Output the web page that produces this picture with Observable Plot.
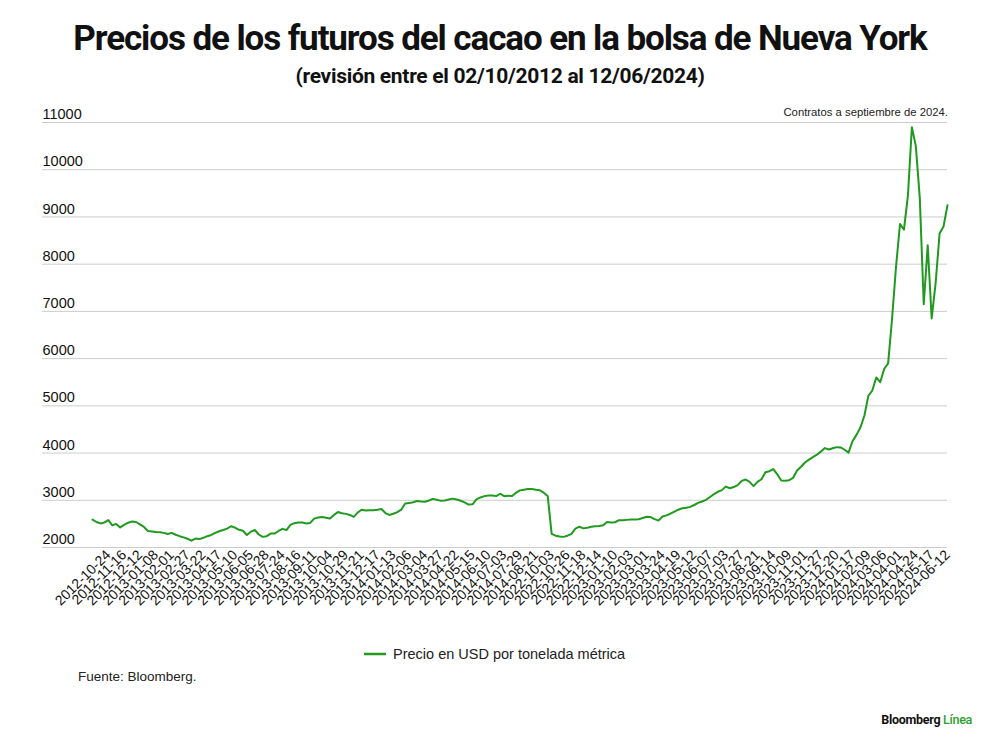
<!DOCTYPE html>
<html>
<head>
<meta charset="utf-8">
<script src="https://cdn.jsdelivr.net/npm/d3@7"></script>
<script src="https://cdn.jsdelivr.net/npm/@observablehq/plot@0.6"></script>
<style>
  body { margin: 0; background: #fff; }
  #wrap { position: relative; width: 1000px; height: 750px; font-family: "Liberation Sans", Arial, sans-serif; color: #111; overflow: hidden; }
  #title { position: absolute; top: 21px; left: 0; width: 1000px; text-align: center; font: bold 35px Roboto, sans-serif; letter-spacing: -1.1px; line-height: 1; color: #111; }
  #subtitle { position: absolute; top: 66px; left: 0; width: 1000px; text-align: center; font: bold 21px Roboto, sans-serif; letter-spacing: -0.3px; line-height: 1; color: #111; }
  #note { position: absolute; top: 107px; right: 52px; font-size: 11.3px; color: #222; line-height: 1; }
  #chart { position: absolute; top: 100px; left: 0; }
  #legend { position: absolute; top: 647px; left: 364px; font-size: 14.5px; color: #222; display: flex; align-items: center; line-height: 1; }
  #legend svg { margin-right: 7px; }
  #source { position: absolute; top: 670px; left: 78px; font-size: 13.5px; color: #222; line-height: 1; }
  #brand { position: absolute; top: 714px; right: 28px; font: bold 12.5px Roboto, sans-serif; color: #111; letter-spacing: -0.3px; line-height: 1; }
  #brand span { color: #2a9d2a; font-weight: 500; }
</style>
</head>
<body>
<div id="wrap">
  <div id="title">Precios de los futuros del cacao en la bolsa de Nueva York</div>
  <div id="subtitle">(revisión entre el 02/10/2012 al 12/06/2024)</div>
  <div id="note">Contratos a septiembre de 2024.</div>
  <div id="chart"></div>
  <div id="legend"><svg width="22" height="4"><line x1="0" x2="22" y1="2" y2="2" stroke="#1f9a1f" stroke-width="2.5"/></svg><span>Precio en USD por tonelada métrica</span></div>
  <div id="source">Fuente: Bloomberg.</div>
  <div id="brand">Bloomberg <span>Línea</span></div>
</div>
<script>
// Tick labels of the categorical date axis (one every 17 sessions)
const tickDates = [
  "2012-10-24","2012-11-16","2012-12-12",
  "2013-01-08","2013-02-01","2013-02-27","2013-03-22","2013-04-17","2013-05-10","2013-06-05","2013-06-28",
  "2013-07-24","2013-08-16","2013-09-11","2013-10-04","2013-10-29","2013-11-21","2013-12-17",
  "2014-01-13","2014-02-06","2014-03-04","2014-03-27","2014-04-22","2014-05-15","2014-06-10","2014-07-03",
  "2014-07-29","2014-08-21",
  "2022-10-03","2022-10-26","2022-11-18","2022-12-14",
  "2023-01-10","2023-02-03","2023-03-01","2023-03-24","2023-04-19","2023-05-12","2023-06-07","2023-07-03",
  "2023-07-27","2023-08-21","2023-09-14","2023-10-09","2023-11-01","2023-11-27","2023-12-20",
  "2024-01-17","2024-02-09","2024-03-06","2024-04-01","2024-04-24","2024-05-17","2024-06-12"
];

// Price (USD per metric ton), sampled 4 times per tick interval
const prices2012to2014 = [
  2590,2540,2510,2530,2580,2470,2500,2425,2480,2525,
  2550,2540,2490,2435,2350,2340,2330,2325,2310,2285,
  2310,2270,2240,2215,2185,2145,2190,2178,2205,2240,
  2265,2310,2345,2370,2400,2450,2420,2375,2355,2265,
  2335,2370,2275,2225,2240,2295,2295,2350,2395,2370,
  2480,2515,2530,2530,2510,2520,2612,2635,2645,2632,
  2615,2690,2750,2725,2712,2690,2648,2740,2800,2785,
  2790,2790,2800,2815,2730,2690,2715,2750,2800,2930,
  2940,2960,2985,2975,2970,2995,3030,3010,2988,2995,
  3015,3035,3015,2990,2955,2910,2915,3020,3060,3088,
  3100,3100,3088,3138,3086,3098,3090,3160,3210,3225,
  3238,3240,3222,3212,3160,3090
];
const prices2022to2024 = [
  2290,2250,2235,2225,2250,2290,2400,2440,2405,2420,
  2438,2448,2455,2470,2540,2530,2535,2578,2578,2585,
  2592,2592,2600,2625,2650,2645,2600,2570,2655,2680,
  2715,2760,2800,2830,2842,2860,2900,2945,2975,3010,
  3070,3130,3180,3215,3290,3255,3280,3320,3410,3440,
  3390,3300,3390,3445,3595,3615,3660,3550,3420,3415,
  3425,3475,3630,3710,3800,3860,3915,3965,4030,4105,
  4075,4100,4125,4118,4070,4010,4250,4385,4540,4790,
  5210,5325,5600,5500,5780,5900,6850,7950,8850,8730,
  9450,10900,10500,9400,7150,8400,6850,7600,8650,8800,9250
];

const yTicks = [2000,3000,4000,5000,6000,7000,8000,9000,10000,11000];
const samplesPerTick = 4;

const prices = prices2012to2014.concat(prices2022to2024);
const data = prices.map((price, i) => ({i, price}));
const tickSamples = tickDates.map((d, k) => samplesPerTick + k * samplesPerTick);
const labelOf = new Map(tickSamples.map((s, k) => [s, tickDates[k]]));

const chart = Plot.plot({
  width: 1000,
  height: 522,
  marginTop: 22,
  marginBottom: 75,
  marginLeft: 92,
  marginRight: 53,
  style: {fontFamily: "'Liberation Sans', Arial, sans-serif", color: "#111", background: "transparent"},
  x: {domain: [0, prices.length - 1]},
  y: {domain: [2000, 11000]},
  marks: [
    Plot.gridY(yTicks, {stroke: "#cccccc", strokeOpacity: 1, insetLeft: -50}),
    Plot.axisY(yTicks, {tickSize: 0, tickPadding: 0, dx: -50, dy: -8, textAnchor: "start", fontSize: 14.5, label: null, tickFormat: d => String(d)}),
    Plot.axisX(tickSamples, {tickSize: 0, tickPadding: 5, tickRotate: -45, fontSize: 14, label: null, tickFormat: s => labelOf.get(s)}),
    Plot.line(data, {x: "i", y: "price", stroke: "#1f9a1f", strokeWidth: 2})
  ]
});
document.getElementById("chart").appendChild(chart);
</script>
</body>
</html>
